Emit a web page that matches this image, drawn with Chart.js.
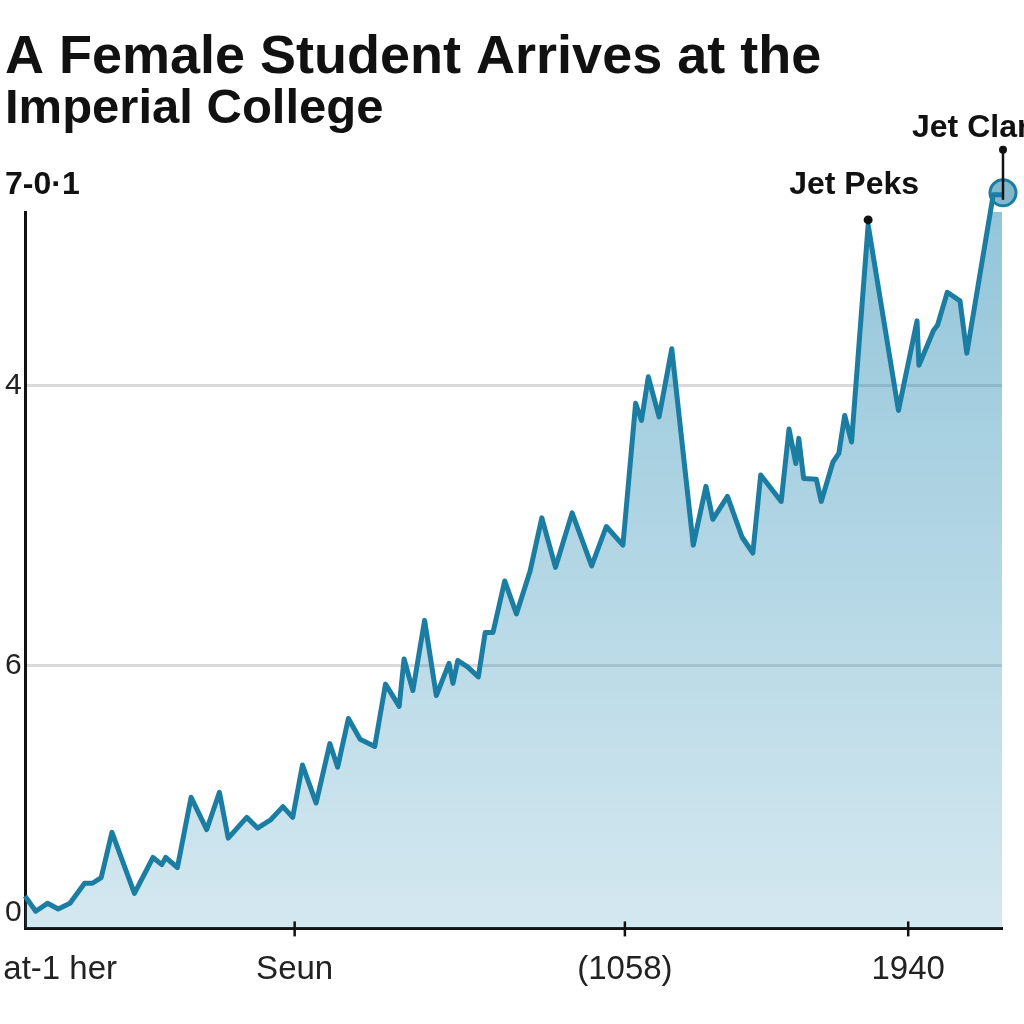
<!DOCTYPE html>
<html>
<head>
<meta charset="utf-8">
<title>A Female Student Arrives at the Imperial College</title>
<script src="https://cdn.jsdelivr.net/npm/chart.js@4.4.1/dist/chart.umd.min.js"></script>
<style>
  html, body { margin: 0; padding: 0; background: #fff; }
</style>
</head>
<body>
<canvas id="studentChart" width="1024" height="1024"></canvas>
<script>
// values (x runs 0-100 along the axis, y 0-100 up the axis)
const xValues = [0, 1.1, 2.3, 3.4, 4.6, 6.1, 6.9, 7.8, 8.9, 11.2,
    13.1, 14.0, 14.4, 15.6, 17.0, 18.6, 19.9, 20.8, 22.7, 23.8,
    25.1, 26.4, 27.4, 28.4, 29.8, 31.2, 32.0, 33.1, 34.3, 35.8,
    36.9, 38.3, 38.8, 39.7, 40.9, 42.1, 43.4, 43.8, 44.3, 45.3,
    46.4, 47.1, 47.9, 49.1, 50.3, 51.7, 52.9, 54.3, 56.0, 58.0,
    59.5, 61.2, 62.5, 63.1, 63.8, 64.9, 66.2, 68.4, 69.7, 70.4,
    71.9, 73.4, 74.5, 75.3, 77.4, 78.2, 78.9, 79.2, 79.7, 81.0,
    81.5, 82.7, 83.3, 83.9, 84.6, 86.3, 89.4, 91.3, 91.5, 93.0,
    93.4, 94.4, 95.7, 96.4, 99.1, 100];
const yValues = [4.5, 2.4, 3.5, 2.7, 3.5, 6.3, 6.3, 7.1, 13.4, 4.9,
    9.9, 8.9, 9.9, 8.5, 18.3, 13.8, 19.0, 12.6, 15.5, 14.0,
    15.1, 17.0, 15.5, 22.8, 17.5, 25.8, 22.5, 29.3, 26.4, 25.4,
    34.1, 31.0, 37.6, 33.2, 43.0, 32.5, 37.0, 34.2, 37.4, 36.5,
    35.1, 41.3, 41.3, 48.5, 43.9, 49.9, 57.3, 50.4, 58.0, 50.6,
    56.1, 53.5, 73.3, 70.9, 77.0, 71.4, 80.9, 53.5, 61.7, 57.1,
    60.3, 54.6, 52.4, 63.3, 59.6, 69.7, 64.9, 68.4, 62.8, 62.7,
    59.6, 65.1, 66.3, 71.6, 67.9, 98.2, 72.3, 84.8, 78.6, 83.5,
    84.2, 88.8, 87.6, 80.3, 102.4, 102.4];

// axis labels
const xTickValues = [3.6, 27.6, 61.4, 90.4];
const xTickLabels = ['at-1 her', 'Seun', '(1058)', '1940'];
const yTickValues = [2.2, 36.7, 75.8];
const yTickLabels = ['0', '6', '4'];
const yTopLabel = '7-0·1';

// callouts
const peakLabels = ['Jet Peks', 'Jet Clar'];
const peakIndexes = [75, 85];

const FONT = "'Liberation Sans', Arial, sans-serif";
const LINE_BLUE = 'rgb(27, 125, 162)';

// tick marks crossing the x axis, top-left label and the two callouts
const callouts = {
    id: 'callouts',
    afterDraw(chart) {
        const ctx = chart.ctx;
        const area = chart.chartArea;
        const xs = chart.scales.x;
        const pts = chart.getDatasetMeta(0).data;
        ctx.save();

        // ticks on x axis
        ctx.strokeStyle = '#111';
        ctx.lineWidth = 2.5;
        xTickValues.forEach((v, i) => {
            if (i === 0) return;
            const px = xs.getPixelForValue(v);
            ctx.beginPath();
            ctx.moveTo(px, area.bottom - 7);
            ctx.lineTo(px, area.bottom + 8);
            ctx.stroke();
        });

        // label above the y axis
        ctx.fillStyle = '#111';
        ctx.font = 'bold 32px ' + FONT;
        ctx.textAlign = 'left';
        ctx.textBaseline = 'middle';
        ctx.fillText(yTopLabel, chart.scales.y.left, area.top - 27);

        // Jet Peks
        const a = pts[peakIndexes[0]];
        ctx.beginPath();
        ctx.arc(a.x, a.y - 5, 4.5, 0, Math.PI * 2);
        ctx.fill();
        ctx.font = 'bold 32px ' + FONT;
        ctx.textAlign = 'center';
        ctx.fillText(peakLabels[0], a.x - 14, a.y - 40);

        // Jet Clar
        const b = pts[peakIndexes[1]];
        ctx.beginPath();
        ctx.arc(b.x + 1, b.y - 2, 13, 0, Math.PI * 2);
        ctx.fillStyle = 'rgba(27, 125, 162, 0.55)';
        ctx.fill();
        ctx.lineWidth = 3;
        ctx.strokeStyle = LINE_BLUE;
        ctx.stroke();
        ctx.strokeStyle = '#111';
        ctx.lineWidth = 2.5;
        ctx.beginPath();
        ctx.moveTo(b.x + 1, b.y - 45);
        ctx.lineTo(b.x + 1, b.y + 5);
        ctx.stroke();
        ctx.fillStyle = '#111';
        ctx.beginPath();
        ctx.arc(b.x + 1, b.y - 45, 4, 0, Math.PI * 2);
        ctx.fill();
        ctx.textAlign = 'left';
        ctx.fillText(peakLabels[1], b.x - 90, b.y - 67);

        ctx.restore();
    }
};

const ctx = document.getElementById('studentChart').getContext('2d');
const studentChart = new Chart(ctx, {
    type: 'line',
    data: {
        datasets: [{
            data: xValues.map((x, i) => ({ x: x, y: yValues[i] })),
            borderColor: LINE_BLUE,
            borderWidth: 5,
            borderJoinStyle: 'round',
            pointRadius: 0,
            tension: 0,
            clip: false,
            fill: 'origin',
            backgroundColor: (c) => {
                const area = c.chart.chartArea;
                if (!area) return 'rgba(40, 140, 180, 0.3)';
                const g = c.chart.ctx.createLinearGradient(0, area.top, 0, area.bottom);
                g.addColorStop(0, 'rgba(40, 140, 180, 0.5)');
                g.addColorStop(1, 'rgba(40, 140, 180, 0.2)');
                return g;
            }
        }]
    },
    options: {
        responsive: false,
        animation: false,
        layout: { padding: { left: 5, right: 22, top: 0, bottom: 12 } },
        plugins: {
            legend: { display: false },
            tooltip: { enabled: false },
            title: {
                display: true,
                text: 'A Female Student Arrives at the',
                align: 'start',
                color: '#111',
                font: { family: FONT, size: 54, weight: 'bold', lineHeight: 1 },
                padding: { top: 31, bottom: 0 }
            },
            subtitle: {
                display: true,
                text: 'Imperial College',
                align: 'start',
                color: '#111',
                font: { family: FONT, size: 49, weight: 'bold', lineHeight: 1 },
                padding: { top: 0, bottom: 78 }
            }
        },
        scales: {
            x: {
                type: 'linear',
                min: 0,
                max: 100,
                afterBuildTicks: (scale) => { scale.ticks = xTickValues.map(v => ({ value: v })); },
                afterFit: (scale) => { scale.paddingLeft = 0; scale.paddingRight = 0; },
                ticks: {
                    autoSkip: false,
                    maxRotation: 0,
                    padding: 22,
                    color: '#222',
                    font: { family: FONT, size: 33 },
                    callback: (v, i) => xTickLabels[i]
                },
                grid: { display: false, drawTicks: false },
                border: { color: '#111', width: 3 }
            },
            y: {
                min: 0,
                max: 100,
                afterBuildTicks: (scale) => { scale.ticks = yTickValues.map(v => ({ value: v })); },
                afterFit: (scale) => { scale.width = 20; },
                ticks: {
                    crossAlign: 'far',
                    padding: 4,
                    color: '#222',
                    font: { family: FONT, size: 30 },
                    callback: (v, i) => yTickLabels[i]
                },
                grid: {
                    drawTicks: false,
                    lineWidth: 3,
                    color: (c) => c.index === 0 ? 'rgba(0,0,0,0)' : '#dadada'
                },
                border: { color: '#111', width: 3 }
            }
        }
    },
    plugins: [callouts]
});
</script>
</body>
</html>
